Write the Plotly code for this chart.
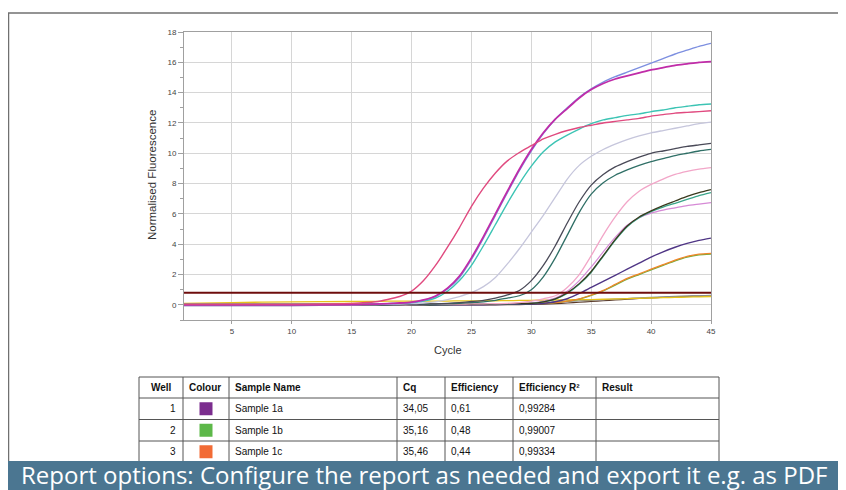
import plotly.graph_objects as go

# The page body has an 8px margin, so the figure is drawn 8px in from the window corner.
OX, OY = 8, 8
FW, FH = 846 - OX, 490 - OY

# ---------------- data ----------------
cycles = [1, 5, 10, 15, 17, 18, 19, 20, 21, 22, 23, 24, 25, 26, 27, 28, 29, 30,
          31, 32, 33, 34, 35, 36, 37, 38, 39, 40, 41, 42, 43, 44, 45]

crimson = [0.05, 0.05, 0.05, 0.1, 0.2, 0.35, 0.55, 0.9, 1.6, 2.6, 3.8, 5.1, 6.5, 7.7, 8.7, 9.5, 10.05, 10.5,
           10.95, 11.25, 11.5, 11.7, 11.85, 12.0, 12.1, 12.2, 12.3, 12.45, 12.55, 12.65, 12.7, 12.75, 12.8]
blue = [0.0, 0.0, 0.02, 0.02, 0.05, 0.08, 0.1, 0.15, 0.3, 0.55, 1.05, 1.8, 3.0, 4.4, 5.9, 7.4, 8.85, 10.15,
        11.3, 12.25, 13.0, 13.7, 14.25, 14.7, 15.05, 15.35, 15.65, 15.95, 16.25, 16.55, 16.8, 17.05, 17.25]
magenta = [0.0, 0.0, 0.0, 0.02, 0.05, 0.08, 0.12, 0.18, 0.32, 0.58, 1.1, 1.9, 3.1, 4.5, 6.0, 7.5, 8.95, 10.25,
           11.35, 12.25, 12.95, 13.65, 14.2, 14.6, 14.9, 15.1, 15.3, 15.5, 15.65, 15.8, 15.9, 16.0, 16.05]
teal = [0.05, 0.05, 0.05, 0.05, 0.05, 0.08, 0.1, 0.15, 0.25, 0.45, 0.9, 1.6, 2.6, 3.9, 5.3, 6.7, 8.0, 9.15,
        10.1, 10.75, 11.2, 11.6, 11.95, 12.2, 12.35, 12.5, 12.6, 12.75, 12.85, 13.0, 13.1, 13.2, 13.25]
lightgray = [0.0, 0.0, 0.0, 0.0, 0.02, 0.03, 0.05, 0.08, 0.12, 0.2, 0.35, 0.55, 0.8, 1.2, 1.8, 2.7, 3.7, 4.8,
             5.9, 7.1, 8.3, 9.2, 9.8, 10.25, 10.6, 10.9, 11.15, 11.35, 11.5, 11.65, 11.8, 11.95, 12.05]
darkgray = [0.0, 0.0, 0.0, 0.0, 0.0, 0.0, 0.02, 0.03, 0.05, 0.07, 0.1, 0.15, 0.22, 0.3, 0.45, 0.65, 0.95, 1.6,
            2.6, 3.9, 5.4, 6.8, 7.9, 8.6, 9.1, 9.45, 9.75, 10.0, 10.15, 10.3, 10.45, 10.55, 10.65]
darkteal = [-0.02, -0.02, -0.02, 0.0, 0.0, 0.0, 0.02, 0.03, 0.04, 0.05, 0.07, 0.1, 0.15, 0.2, 0.3, 0.45, 0.6, 1.0,
            1.85, 3.1, 4.6, 6.1, 7.3, 8.05, 8.55, 8.9, 9.2, 9.45, 9.65, 9.85, 10.0, 10.15, 10.25]
lightpink = [0.0, 0.0, 0.0, 0.0, 0.0, 0.0, 0.0, 0.01, 0.02, 0.03, 0.04, 0.05, 0.06, 0.07, 0.08, 0.1, 0.15, 0.25,
             0.4, 0.6, 1.15, 2.0, 3.25, 4.6, 5.8, 6.8, 7.5, 7.95, 8.3, 8.6, 8.8, 8.95, 9.05]
olive = [0.0, 0.0, 0.0, 0.0, 0.0, 0.0, 0.0, 0.0, 0.0, 0.01, 0.02, 0.03, 0.04, 0.05, 0.06, 0.07, 0.08, 0.1,
         0.2, 0.4, 0.8, 1.4, 2.2, 3.25, 4.3, 5.2, 5.8, 6.2, 6.55, 6.85, 7.15, 7.4, 7.6]
greenteal = [0.0, 0.0, 0.0, 0.0, 0.0, 0.0, 0.0, 0.0, 0.0, 0.01, 0.02, 0.03, 0.04, 0.05, 0.06, 0.07, 0.08, 0.1,
             0.2, 0.38, 0.75, 1.35, 2.15, 3.2, 4.25, 5.15, 5.75, 6.15, 6.45, 6.7, 6.95, 7.2, 7.4]
violetpink = [0.02, 0.02, 0.02, 0.02, 0.02, 0.02, 0.02, 0.02, 0.03, 0.03, 0.04, 0.05, 0.05, 0.06, 0.07, 0.08, 0.1, 0.12,
              0.25, 0.45, 0.9, 1.6, 2.5, 3.5, 4.45, 5.25, 5.75, 6.05, 6.25, 6.4, 6.55, 6.65, 6.75]
darkpurple = [-0.05, -0.05, -0.04, -0.03, -0.03, -0.02, -0.02, -0.02, -0.01, -0.01, 0.0, 0.0, 0.01, 0.01, 0.02, 0.03, 0.04, 0.05,
              0.1, 0.2, 0.4, 0.75, 1.15, 1.55, 1.95, 2.35, 2.75, 3.15, 3.5, 3.8, 4.05, 4.25, 4.4]
orange = [0.05, 0.05, 0.05, 0.05, 0.05, 0.05, 0.05, 0.05, 0.05, 0.06, 0.06, 0.06, 0.07, 0.07, 0.08, 0.08, 0.09, 0.1,
          0.12, 0.15, 0.25, 0.4, 0.65, 0.95, 1.35, 1.75, 2.05, 2.35, 2.65, 2.95, 3.2, 3.35, 3.4]
green = [0.03, 0.03, 0.03, 0.03, 0.03, 0.03, 0.03, 0.04, 0.04, 0.05, 0.05, 0.05, 0.06, 0.06, 0.07, 0.07, 0.08, 0.09,
         0.11, 0.14, 0.24, 0.38, 0.62, 0.92, 1.3, 1.7, 2.0, 2.3, 2.6, 2.9, 3.15, 3.3, 3.35]
yellow = [0.1, 0.15, 0.2, 0.22, 0.23, 0.24, 0.24, 0.25, 0.25, 0.25, 0.25, 0.26, 0.26, 0.27, 0.27, 0.28, 0.29, 0.3,
          0.31, 0.32, 0.33, 0.34, 0.35, 0.37, 0.39, 0.41, 0.43, 0.45, 0.47, 0.49, 0.51, 0.53, 0.55]
grayflat = [0.05, 0.05, 0.05, 0.05, 0.05, 0.05, 0.05, 0.05, 0.05, 0.05, 0.05, 0.05, 0.05, 0.06, 0.07, 0.08, 0.1, 0.12,
            0.15, 0.18, 0.22, 0.26, 0.3, 0.34, 0.38, 0.42, 0.46, 0.5, 0.53, 0.56, 0.58, 0.6, 0.62]
brownflat = [0.0, 0.0, 0.0, 0.0, 0.0, 0.0, 0.0, 0.0, 0.0, 0.0, 0.0, 0.0, 0.0, 0.0, 0.0, 0.01, 0.02, 0.03,
             0.05, 0.08, 0.12, 0.17, 0.22, 0.27, 0.32, 0.37, 0.42, 0.46, 0.5, 0.53, 0.56, 0.58, 0.6]
threshold = 0.8

series = [
    ("brown", brownflat, "#5a3a2a", 1.2),
    ("gray", grayflat, "#8c8c8c", 1.2),
    ("yellow", yellow, "#e6c21a", 1.3),
    ("green", green, "#6fae3c", 1.3),
    ("orange", orange, "#f0862a", 1.3),
    ("darkpurple", darkpurple, "#4f3585", 1.4),
    ("violetpink", violetpink, "#d68ad6", 1.2),
    ("greenteal", greenteal, "#3aa58a", 1.3),
    ("olive", olive, "#3a3a1e", 1.3),
    ("lightpink", lightpink, "#f2a6c8", 1.3),
    ("darkteal", darkteal, "#2f6f66", 1.3),
    ("darkgray", darkgray, "#4a4a58", 1.3),
    ("lightgray", lightgray, "#c6c6dc", 1.3),
    ("teal", teal, "#3cc4b4", 1.4),
    ("blue", blue, "#7d8fe0", 1.4),
    ("magenta", magenta, "#c02ca8", 1.8),
    ("crimson", crimson, "#e04a7f", 1.4),
]

# table data
t_headers = ["Well", "Colour", "Sample Name", "Cq", "Efficiency", "Efficiency R²", "Result"]
t_wells = ["1", "2", "3"]
t_colours = ["#7b2d8e", "#5db849", "#f26b35"]
t_names = ["Sample 1a", "Sample 1b", "Sample 1c"]
t_cq = ["34,05", "35,16", "35,46"]
t_eff = ["0,61", "0,48", "0,44"]
t_r2 = ["0,99284", "0,99007", "0,99334"]
t_result = ["", "", ""]

caption = "Report options: Configure the report as needed and export it e.g. as PDF"

# ---------------- figure ----------------
fig = go.Figure()
for name, vals, col, wdt in series:
    fig.add_trace(go.Scatter(x=cycles, y=vals, mode="lines", name=name,
                             line=dict(color=col, width=wdt, shape="spline", smoothing=0.6),
                             showlegend=False, hoverinfo="skip"))
fig.add_trace(go.Scatter(x=[cycles[0], cycles[-1]], y=[threshold, threshold], mode="lines",
                         line=dict(color="#6e0d0d", width=2), showlegend=False, hoverinfo="skip"))


def fx(x):
    return (x - OX) / FW


def fy(y):
    return 1 - (y - OY) / FH


tick_font = dict(family="Liberation Sans, Arial", size=8, color="#444")
fig.update_layout(
    width=FW, height=FH, template="none",
    margin=dict(l=0, r=0, t=0, b=0),
    paper_bgcolor="white", plot_bgcolor="white",
    xaxis=dict(domain=[fx(184), fx(711)], range=[1, 45], tickvals=[5, 10, 15, 20, 25, 30, 35, 40, 45],
               showgrid=True, gridcolor="#d6d6d6", gridwidth=1, zeroline=False,
               showline=True, linecolor="#a0a0a0", linewidth=1, mirror=True,
               ticks="outside", ticklen=3, tickcolor="#a0a0a0", tickfont=tick_font, automargin=False),
    yaxis=dict(domain=[fy(320), fy(32)], range=[-1, 18], tickvals=list(range(0, 19, 2)),
               showgrid=True, gridcolor="#d6d6d6", gridwidth=1, zeroline=False,
               showline=True, linecolor="#a0a0a0", linewidth=1, mirror=True,
               ticks="outside", ticklen=5, tickcolor="#a0a0a0", tickfont=tick_font, automargin=False,
               minor=dict(dtick=1, tick0=1, ticks="outside", ticklen=3, tickcolor="#a0a0a0", showgrid=False)),
)

shapes = []
annotations = []

# outer frame
shapes.append(dict(type="line", xref="paper", yref="paper", x0=fx(5), x1=fx(846), y0=fy(13), y1=fy(13),
                   line=dict(color="#707070", width=1.5)))
shapes.append(dict(type="line", xref="paper", yref="paper", x0=fx(8.5), x1=fx(8.5), y0=fy(13), y1=fy(462),
                   line=dict(color="#707070", width=1.5)))

# axis titles
annotations.append(dict(text="Normalised Fluorescence", xref="paper", yref="paper", x=fx(152), y=fy(175),
                        textangle=-90, showarrow=False, xanchor="center", yanchor="middle",
                        font=dict(family="Liberation Sans, Arial", size=11.5, color="#333")))
annotations.append(dict(text="Cycle", xref="paper", yref="paper", x=fx(447.5), y=fy(350),
                        showarrow=False, xanchor="center", yanchor="middle",
                        font=dict(family="Liberation Sans, Arial", size=11, color="#333")))

# table
col_edges = [139, 183, 229, 397, 445, 513, 596, 719]
row_edges = [377, 398, 419.5, 441, 462.5]
tline = dict(color="#555555", width=1)
for yy in row_edges:
    shapes.append(dict(type="line", xref="paper", yref="paper", x0=fx(col_edges[0]), x1=fx(col_edges[-1]),
                       y0=fy(yy), y1=fy(yy), line=tline))
for xx in col_edges:
    shapes.append(dict(type="line", xref="paper", yref="paper", x0=fx(xx), x1=fx(xx),
                       y0=fy(row_edges[0]), y1=fy(row_edges[-1]), line=tline))

tfont = dict(family="Liberation Sans, Arial", size=10, color="#111")


def cell_text(txt, ci, ri, align="left", bold=False):
    yc = (row_edges[ri] + row_edges[ri + 1]) / 2
    if align == "left":
        x, xa = col_edges[ci] + 4, "left"
    elif align == "right":
        x, xa = col_edges[ci + 1] - 5, "right"
    else:
        x, xa = (col_edges[ci] + col_edges[ci + 1]) / 2, "center"
    annotations.append(dict(text=("<b>%s</b>" % txt) if bold else txt, xref="paper", yref="paper",
                            x=fx(x), y=fy(yc), xanchor=xa, yanchor="middle", showarrow=False,
                            font=tfont))


for ci, h in enumerate(t_headers):
    cell_text(h, ci, 0, align="center" if ci == 0 else "left", bold=True)

for r in range(3):
    ri = r + 1
    cell_text(t_wells[r], 0, ri, align="right")
    yc = (row_edges[ri] + row_edges[ri + 1]) / 2
    xc = 206
    shapes.append(dict(type="rect", xref="paper", yref="paper", x0=fx(xc - 6.5), x1=fx(xc + 6.5),
                       y0=fy(yc - 6.5), y1=fy(yc + 6.5), fillcolor=t_colours[r], line=dict(width=0)))
    cell_text(t_names[r], 2, ri)
    cell_text(t_cq[r], 3, ri)
    cell_text(t_eff[r], 4, ri)
    cell_text(t_r2[r], 5, ri)
    cell_text(t_result[r], 6, ri)

# caption bar
shapes.append(dict(type="rect", xref="paper", yref="paper", x0=0, x1=1, y0=0, y1=fy(461),
                   fillcolor="#4b7691", line=dict(width=0), layer="above"))
annotations.append(dict(text=caption, xref="paper", yref="paper", x=fx(19), y=fy(474),
                        xanchor="left", yanchor="middle", showarrow=False,
                        font=dict(family="Open Sans", size=24, color="white")))

fig.update_layout(shapes=shapes, annotations=annotations)
fig.write_html("out.html")
